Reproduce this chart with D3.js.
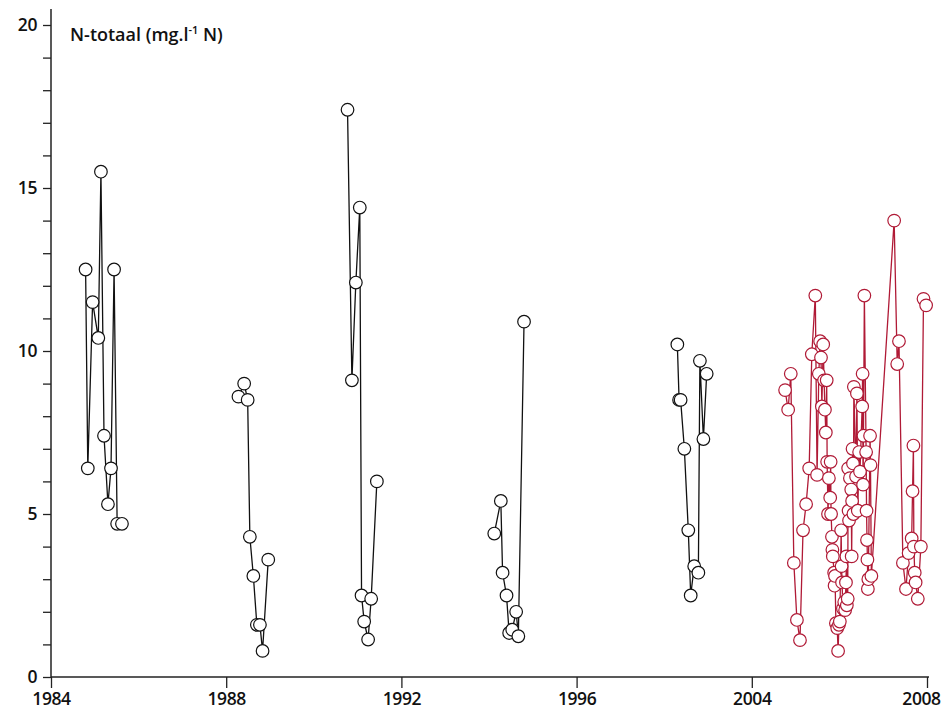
<!DOCTYPE html>
<html>
<head>
<meta charset="utf-8">
<script src="https://cdn.jsdelivr.net/npm/d3@7"></script>
<style>
  body { margin: 0; background: #fff; }
  svg text { font-family: "Open Sans", "DejaVu Sans", sans-serif; fill: #111; }
  .tick text { font-size: 17.5px; font-weight: 600; letter-spacing: -0.4px; }
  .title { font-size: 18px; font-weight: 600; }
</style>
</head>
<body>
<div id="chart"></div>
<script>
// axis labels as printed on the reference
const tickYears = [1984, 1988, 1992, 1996, 2004, 2008];
const yTicks = d3.range(0, 21);

// black campaigns: [decimal year, N-totaal]
const campaign1 = [[1984.79, 12.5], [1984.84, 6.4], [1984.95, 11.5], [1985.08, 10.4], [1985.14, 15.5],
  [1985.21, 7.4], [1985.30, 5.3], [1985.37, 6.4], [1985.44, 12.5], [1985.51, 4.7], [1985.62, 4.7]];
const campaign2 = [[1988.28, 8.6], [1988.41, 9.0], [1988.49, 8.5], [1988.54, 4.3], [1988.62, 3.1],
  [1988.70, 1.6], [1988.77, 1.6], [1988.83, 0.8], [1988.96, 3.6]];
const campaign3 = [[1990.77, 17.4], [1990.87, 9.1], [1990.96, 12.1], [1991.05, 14.4], [1991.09, 2.5],
  [1991.15, 1.7], [1991.24, 1.15], [1991.31, 2.4], [1991.44, 6.0]];
const campaign4 = [[1994.12, 4.4], [1994.27, 5.4], [1994.31, 3.2], [1994.40, 2.5], [1994.46, 1.35],
  [1994.53, 1.45], [1994.62, 2.0], [1994.67, 1.25], [1994.80, 10.9]];
const campaign5 = [[2000.60, 10.2], [2000.68, 8.5], [2000.75, 8.5], [2000.92, 7.0], [2001.10, 4.5],
  [2001.21, 2.5], [2001.37, 3.4], [2001.56, 3.2], [2001.63, 9.7], [2001.79, 7.3], [2001.94, 9.3]];

// red series (recent monitoring)
const redSeries = [
  [2004.76, 8.8], [2004.83, 8.2], [2004.89, 9.3], [2004.96, 3.5], [2005.03, 1.75], [2005.10, 1.13],
  [2005.17, 4.5], [2005.24, 5.3], [2005.31, 6.4], [2005.37, 9.9], [2005.45, 11.7], [2005.49, 6.2],
  [2005.53, 9.3], [2005.56, 10.3], [2005.58, 9.8], [2005.60, 8.3], [2005.63, 10.2], [2005.65, 9.1],
  [2005.67, 8.2], [2005.69, 7.5], [2005.71, 9.1], [2005.72, 6.6], [2005.74, 5.0], [2005.76, 6.1],
  [2005.79, 5.5], [2005.80, 6.6], [2005.81, 5.0], [2005.83, 4.3], [2005.84, 3.9], [2005.85, 3.7],
  [2005.88, 3.2], [2005.89, 2.8], [2005.90, 3.1], [2005.92, 1.65], [2005.95, 1.5], [2005.97, 0.8],
  [2005.99, 1.6], [2006.01, 1.7], [2006.04, 4.5], [2006.05, 3.4], [2006.06, 2.9], [2006.08, 2.1],
  [2006.11, 2.3], [2006.13, 2.05], [2006.15, 2.9], [2006.16, 3.7], [2006.17, 2.2], [2006.19, 2.4],
  [2006.20, 6.4], [2006.21, 5.1], [2006.22, 4.8], [2006.24, 6.1], [2006.27, 5.75], [2006.28, 3.7],
  [2006.29, 5.4], [2006.30, 7.0], [2006.31, 6.55], [2006.32, 5.0], [2006.33, 8.9], [2006.38, 6.15],
  [2006.40, 8.7], [2006.42, 5.1], [2006.45, 6.9], [2006.47, 6.3], [2006.52, 8.3], [2006.53, 9.3],
  [2006.54, 5.9], [2006.55, 7.4], [2006.57, 11.7], [2006.61, 6.9], [2006.62, 5.1], [2006.63, 4.2],
  [2006.64, 3.6], [2006.65, 2.7], [2006.66, 3.0], [2006.70, 7.4], [2006.71, 6.5], [2006.73, 3.1],
  [2007.25, 14.0], [2007.32, 9.6], [2007.36, 10.3], [2007.45, 3.5], [2007.52, 2.7], [2007.58, 3.8],
  [2007.65, 4.25], [2007.67, 5.7], [2007.69, 7.1], [2007.70, 4.0], [2007.72, 3.2], [2007.74, 2.9],
  [2007.79, 2.4], [2007.86, 4.0], [2007.92, 11.6], [2007.98, 11.4]
];

const width = 946;
const height = 712;
const margin = { left: 51, right: 927, top: 25, bottom: 677 };
const red = "#b01a36";

const svg = d3.select("#chart")
  .append("svg")
  .attr("width", width)
  .attr("height", height);

// the printed labels sit at equal spacing, so map them piecewise
const tickPos = d3.scalePoint().domain(tickYears).range([margin.left, margin.right]);
const x = d3.scaleLinear()
  .domain(tickYears)
  .range(tickYears.map(d => tickPos(d)));

const y = d3.scaleLinear()
  .domain([0, 20])
  .range([margin.bottom, margin.top]);

// y axis
const yAxis = svg.append("g")
  .attr("transform", `translate(${margin.left},0)`)
  .call(d3.axisLeft(y)
    .tickValues(yTicks)
    .tickFormat(d => d % 5 === 0 ? d : "")
    .tickSize(8)
    .tickPadding(6));
yAxis.select(".domain").remove();
yAxis.selectAll(".tick line").attr("stroke", "#222").attr("stroke-width", 1.3);
yAxis.append("line")
  .attr("y1", margin.bottom)
  .attr("y2", 9)
  .attr("stroke", "#222")
  .attr("stroke-width", 1.5);

// x axis
const xAxis = svg.append("g")
  .attr("transform", `translate(0,${margin.bottom})`)
  .call(d3.axisBottom(x)
    .tickValues(tickYears)
    .tickFormat(d3.format("d"))
    .tickSize(11)
    .tickPadding(5));
xAxis.select(".domain").remove();
xAxis.selectAll(".tick line").attr("stroke", "#222").attr("stroke-width", 1.3);
// keep the last label inside the window
xAxis.selectAll(".tick text").filter(d => d === tickYears[tickYears.length - 1]).attr("dx", -6);
xAxis.append("line")
  .attr("x1", margin.left)
  .attr("x2", margin.right + 2)
  .attr("stroke", "#222")
  .attr("stroke-width", 1.5);

// title
const title = svg.append("text")
  .attr("class", "title")
  .attr("x", 70)
  .attr("y", 41);
title.append("tspan").text("N-totaal (mg.l");
title.append("tspan").attr("dy", -7).attr("font-size", 11).text("-1");
title.append("tspan").attr("dy", 7).text(" N)");

const line = d3.line()
  .x(d => x(d[0]))
  .y(d => y(d[1]));

const campaigns = [campaign1, campaign2, campaign3, campaign4, campaign5];

svg.selectAll(".black-line")
  .data(campaigns)
  .enter().append("path")
  .attr("class", "black-line")
  .attr("d", line)
  .attr("fill", "none")
  .attr("stroke", "#111")
  .attr("stroke-width", 1.3);

svg.append("path")
  .datum(redSeries)
  .attr("d", line)
  .attr("fill", "none")
  .attr("stroke", red)
  .attr("stroke-width", 1.3);

svg.selectAll(".black-dot")
  .data(campaigns.flat())
  .enter().append("circle")
  .attr("class", "black-dot")
  .attr("cx", d => x(d[0]))
  .attr("cy", d => y(d[1]))
  .attr("r", 6.3)
  .attr("fill", "#fff")
  .attr("stroke", "#111")
  .attr("stroke-width", 1.2);

svg.selectAll(".red-dot")
  .data(redSeries)
  .enter().append("circle")
  .attr("class", "red-dot")
  .attr("cx", d => x(d[0]))
  .attr("cy", d => y(d[1]))
  .attr("r", 6.3)
  .attr("fill", "#fff")
  .attr("stroke", red)
  .attr("stroke-width", 1.2);
</script>
</body>
</html>
